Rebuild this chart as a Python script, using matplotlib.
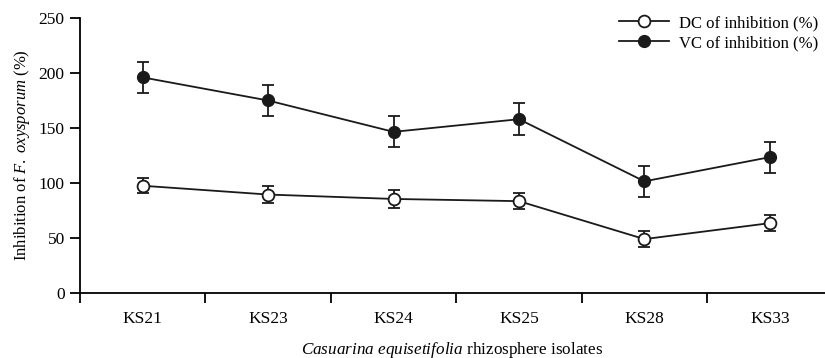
import numpy as np
import matplotlib
matplotlib.use("Agg")
import matplotlib.pyplot as plt
from matplotlib.ticker import FixedLocator

plt.rcParams["font.family"] = ["Liberation Serif", "DejaVu Serif"]
plt.rcParams["mathtext.fontset"] = "custom"
plt.rcParams["mathtext.it"] = "Liberation Serif:italic"
plt.rcParams["mathtext.rm"] = "Liberation Serif"

# Data
isolates = ["KS21", "KS23", "KS24", "KS25", "KS28", "KS33"]
dc_values = [97.5, 89.5, 85.5, 83.5, 49, 63.5]
dc_errors = [7, 7.5, 8, 7, 7.5, 7]
vc_values = [196, 175, 146.5, 158, 101.5, 123.5]
vc_errors = [14, 14, 14, 14.5, 14, 14]

x = np.arange(len(isolates))

fig = plt.figure(figsize=(8.25, 3.58), dpi=100)
ax = fig.add_axes([80 / 825, 1 - 293 / 358, 745 / 825, 275 / 358])

ax.errorbar(x, dc_values, yerr=dc_errors, color="#1a1a1a", marker="o",
            markerfacecolor="white", markeredgecolor="#1a1a1a", markersize=8.5,
            markeredgewidth=1.3, linewidth=1.3, capsize=4, elinewidth=1.3,
            capthick=1.3, label="DC of inhibition (%)", zorder=3)
ax.errorbar(x, vc_values, yerr=vc_errors, color="#1a1a1a", marker="o",
            markerfacecolor="#1a1a1a", markeredgecolor="#1a1a1a", markersize=8.5,
            linewidth=1.3, capsize=4, elinewidth=1.3, capthick=1.3,
            label="VC of inhibition (%)", zorder=3)

ax.set_xlim(-0.5, 5.44)
ax.set_ylim(0, 250)
ax.set_yticks([0, 50, 100, 150, 200, 250])
ax.set_xticks(x)
ax.set_xticklabels(isolates)
ax.xaxis.set_minor_locator(FixedLocator(np.arange(-0.5, 5.5, 1)))
ax.tick_params(axis="x", which="major", length=0, pad=13, labelsize=12.5)
ax.tick_params(axis="x", which="minor", length=7, width=1.3, direction="out")
ax.tick_params(axis="y", length=7, width=1.3, direction="out", labelsize=12.5, pad=4)

for side in ["top", "right"]:
    ax.spines[side].set_visible(False)
for side in ["left", "bottom"]:
    ax.spines[side].set_linewidth(1.3)

ax.set_ylabel(r"Inhibition of $F.\ oxysporum$ (%)", fontsize=12, labelpad=5)
ax.set_xlabel(r"$Casuarina\ equisetifolia$ rhizosphere isolates", fontsize=12.3, labelpad=9)

handles, labels = ax.get_legend_handles_labels()
handles = [h[0] for h in handles]
ax.legend(handles, labels, loc="upper right", bbox_to_anchor=(1.0, 1.035),
          frameon=False, fontsize=12, handlelength=3.0, handletextpad=0.6,
          labelspacing=0.25, borderaxespad=0)

fig.savefig("out.png", dpi=100)
